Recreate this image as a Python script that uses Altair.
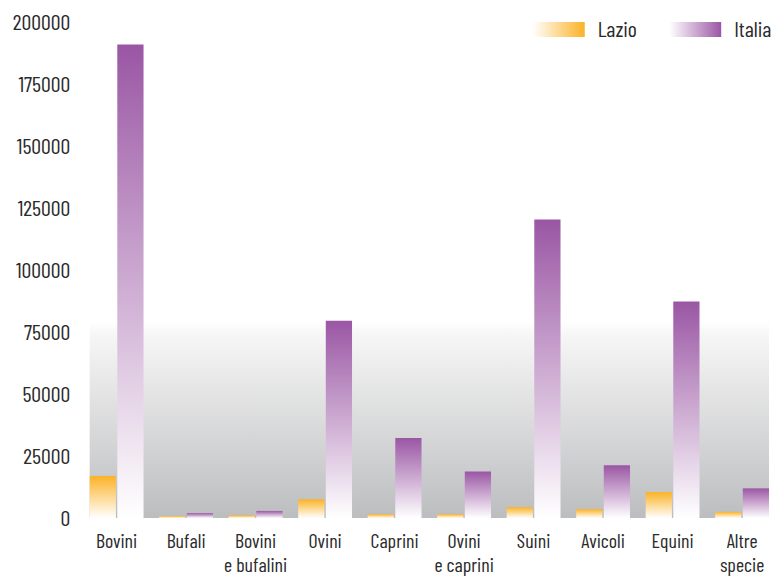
import altair as alt
import pandas as pd

categories = ["Bovini", "Bufali", "Bovini\ne bufalini", "Ovini", "Caprini",
              "Ovini\ne caprini", "Suini", "Avicoli", "Equini", "Altre\nspecie"]
lazio = [17000, 800, 1100, 7600, 1600, 1600, 4400, 3600, 10500, 2500]
italia = [191000, 2000, 2900, 79600, 32300, 18800, 120400, 21300, 87300, 12000]
series = ["Lazio", "Italia"]
y_ticks = [0, 25000, 50000, 75000, 100000, 125000, 150000, 175000, 200000]

rows = []
for c, a, b in zip(categories, lazio, italia):
    rows.append({"cat": c, "serie": "Lazio", "value": a})
    rows.append({"cat": c, "serie": "Italia", "value": b})
df = pd.DataFrame(rows)

FONT = "Barlow Condensed, Archivo Narrow, DejaVu Sans Condensed, sans-serif"
W, H = 682, 498
ORANGE = "#fbb226"
PURPLE = "#9a56a4"
TXT = "#2a2a2a"


def vgrad(color):
    return alt.Gradient(gradient="linear",
                        stops=[alt.GradientStop(color=color, offset=0),
                               alt.GradientStop(color="#ffffff", offset=1)],
                        x1=0, x2=0, y1=0, y2=1)


def hgrad(color):
    return alt.Gradient(gradient="linear",
                        stops=[alt.GradientStop(color="#ffffff", offset=0),
                               alt.GradientStop(color=color, offset=1)],
                        x1=0, x2=1, y1=0, y2=0)


bg_grad = alt.Gradient(gradient="linear",
                       stops=[alt.GradientStop(color="#ffffff", offset=0),
                              alt.GradientStop(color="#ffffff", offset=0.605),
                              alt.GradientStop(color="#f7f7f7", offset=0.625),
                              alt.GradientStop(color="#bcbdbf", offset=1)],
                       x1=0, x2=0, y1=0, y2=1)

one = alt.Data(values=[{"k": 1}])

background = alt.Chart(one).mark_rect(fill=bg_grad).encode(
    x=alt.value(0), x2=alt.value(W), y=alt.value(0), y2=alt.value(H))

base = alt.Chart(df).encode(
    x=alt.X("cat:N", sort=categories,
            scale=alt.Scale(paddingInner=0.225, paddingOuter=0),
            axis=alt.Axis(title=None, domain=False, ticks=False, labelAngle=0,
                          labelExpr="split(datum.label, '\\n')",
                          labelLineHeight=24, labelPadding=14,
                          labelFontSize=20, labelFont=FONT, labelColor=TXT,
                          maxExtent=56)),
    xOffset=alt.XOffset("serie:N", sort=series, scale=alt.Scale(paddingInner=0.05)),
    y=alt.Y("value:Q", scale=alt.Scale(domain=[0, 200000]),
            axis=alt.Axis(title=None, domain=False, ticks=False, grid=False,
                          values=y_ticks, format="d", labelFontSize=22,
                          labelFont=FONT, labelColor=TXT, labelPadding=20,
                          minExtent=82, maxExtent=82)),
)

bars_lazio = base.transform_filter(alt.datum.serie == "Lazio").mark_bar(fill=vgrad(ORANGE))
bars_italia = base.transform_filter(alt.datum.serie == "Italia").mark_bar(fill=vgrad(PURPLE))

leg_l = alt.Chart(one).mark_rect(fill=hgrad(ORANGE)).encode(
    x=alt.value(445), x2=alt.value(497), y=alt.value(0), y2=alt.value(15))
leg_i = alt.Chart(one).mark_rect(fill=hgrad(PURPLE)).encode(
    x=alt.value(582), x2=alt.value(634), y=alt.value(0), y2=alt.value(15))
txt_l = alt.Chart(one).mark_text(text="Lazio", align="left", baseline="middle",
                                 fontSize=22, font=FONT, color=TXT).encode(
    x=alt.value(510), y=alt.value(8))
txt_i = alt.Chart(one).mark_text(text="Italia", align="left", baseline="middle",
                                 fontSize=22, font=FONT, color=TXT).encode(
    x=alt.value(647), y=alt.value(8))

chart = alt.layer(background, bars_lazio, bars_italia, leg_l, leg_i, txt_l, txt_i).properties(
    width=W, height=H,
    padding={"left": 0, "top": 2, "right": 0, "bottom": 0},
    background="#ffffff",
).configure_view(stroke=None)

chart.save("out.html", embed_options={"renderer": "svg", "actions": False})
